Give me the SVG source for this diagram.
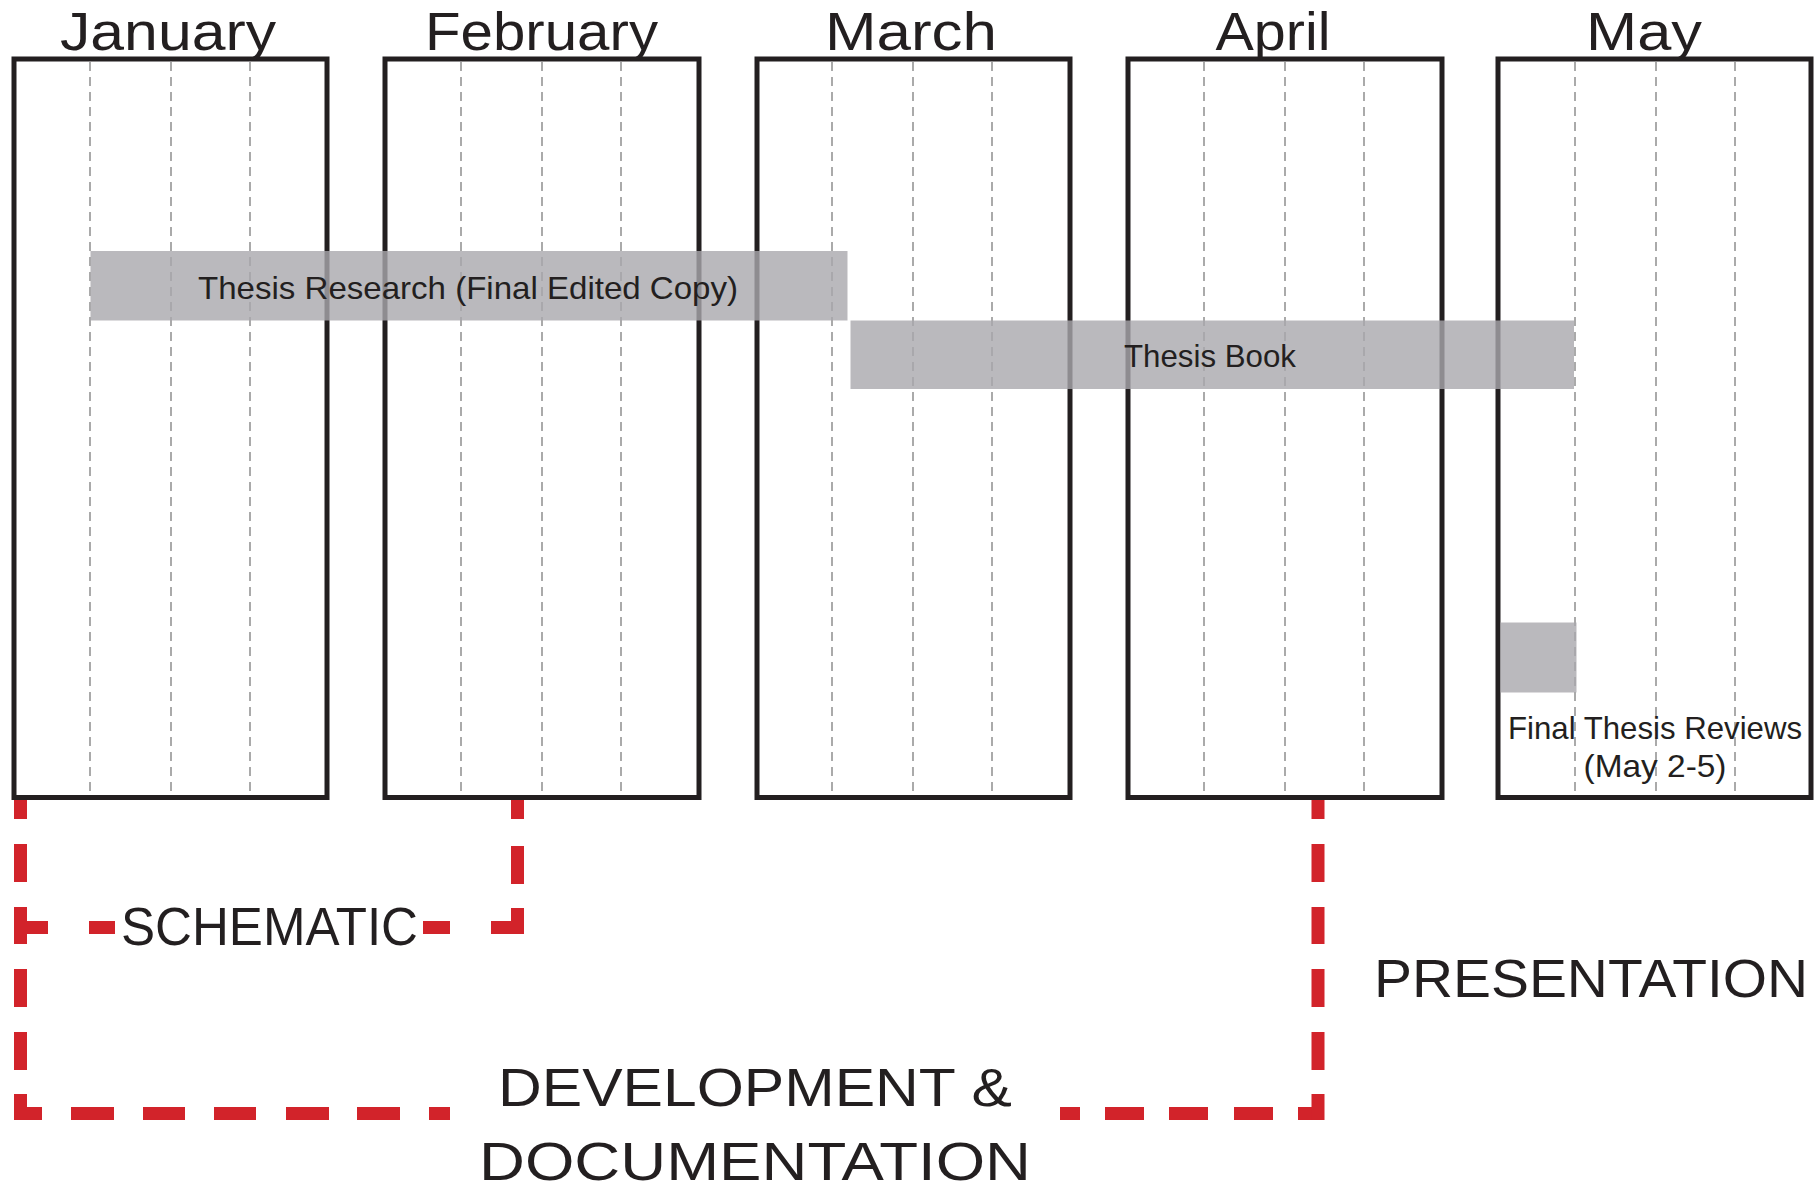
<svg xmlns="http://www.w3.org/2000/svg" width="1817" height="1185" viewBox="0 0 1817 1185">
  <style>
    .box { fill: none; stroke: #231f20; stroke-width: 5; }
    .wk { stroke: #aaaaaa; stroke-width: 2; stroke-dasharray: 9 6; fill: none; }
    .bar { fill: #a9a8ac; fill-opacity: 0.8; }
    .t { font-family: "Liberation Sans", Arial, sans-serif; fill: #231f20; }
    .month { font-size: 53px; text-anchor: middle; }
    .task { font-size: 32px; text-anchor: middle; }
    .phase { font-size: 54px; text-anchor: middle; }
    .red { fill: none; stroke: #d2232a; stroke-width: 13; stroke-linecap: butt; }
  </style>
  <rect width="1817" height="1185" fill="#ffffff"/>

  <g id="month-january">
    <rect class="box" x="14" y="59" width="313" height="738.5"/>
    <path class="wk" d="M90,62 V795 M171,62 V795 M250,62 V795"/>
    <text class="t month" x="168" y="50" textLength="216" lengthAdjust="spacingAndGlyphs">January</text>
  </g>
  <g id="month-february">
    <rect class="box" x="385" y="59" width="314" height="738.5"/>
    <path class="wk" d="M461,62 V795 M542,62 V795 M621,62 V795"/>
    <text class="t month" x="541.5" y="50" textLength="233" lengthAdjust="spacingAndGlyphs">February</text>
  </g>
  <g id="month-march">
    <rect class="box" x="757" y="59" width="313" height="738.5"/>
    <path class="wk" d="M832,62 V795 M913,62 V795 M992,62 V795"/>
    <text class="t month" x="911" y="50" textLength="172" lengthAdjust="spacingAndGlyphs">March</text>
  </g>
  <g id="month-april">
    <rect class="box" x="1128" y="59" width="314" height="738.5"/>
    <path class="wk" d="M1204,62 V795 M1285,62 V795 M1364,62 V795"/>
    <text class="t month" x="1273" y="50" textLength="115" lengthAdjust="spacingAndGlyphs">April</text>
  </g>
  <g id="month-may">
    <rect class="box" x="1498" y="59" width="313" height="738.5"/>
    <path class="wk" d="M1575,62 V795 M1656,62 V795 M1735,62 V795"/>
    <text class="t month" x="1644" y="50" textLength="116" lengthAdjust="spacingAndGlyphs">May</text>
  </g>

  <g id="task-thesis-research">
    <rect class="bar" x="90.5" y="251" width="757" height="69.5"/>
    <text class="t task" x="468" y="298.5" textLength="540" lengthAdjust="spacingAndGlyphs">Thesis Research (Final Edited Copy)</text>
  </g>
  <g id="task-thesis-book">
    <rect class="bar" x="850.5" y="320.5" width="723.5" height="68.5"/>
    <text class="t task" x="1210" y="367" textLength="172" lengthAdjust="spacingAndGlyphs">Thesis Book</text>
  </g>
  <g id="task-final-reviews">
    <rect class="bar" x="1500.5" y="622.5" width="76" height="70"/>
    <text class="t task" x="1655" y="739" font-size="31" textLength="294" lengthAdjust="spacingAndGlyphs">Final Thesis Reviews</text>
    <text class="t task" x="1655" y="777" font-size="31" textLength="143" lengthAdjust="spacingAndGlyphs">(May 2-5)</text>
  </g>

  <g id="connectors">
    <path class="red" d="M20.5,800 V819 M20.5,844 V882 M20.5,907 V944 M20.5,969 V1007 M20.5,1032 V1070 M20.5,1094 V1120"/>
    <path class="red" d="M14,927.5 H48 M89,927.5 H115 M423,927.5 H450 M491,927.5 H524"/>
    <path class="red" d="M517.5,800 V819 M517.5,846 V884 M517.5,908 V934"/>
    <path class="red" d="M14,1113.5 H42 M71,1113.5 H114 M143,1113.5 H185 M214,1113.5 H256 M286,1113.5 H329 M357,1113.5 H400 M429,1113.5 H450 M1060,1113.5 H1080 M1105,1113.5 H1144 M1169,1113.5 H1208 M1234,1113.5 H1273 M1298,1113.5 H1324"/>
    <path class="red" d="M1318,800 V819 M1318,844 V882 M1318,907 V944 M1318,969 V1007 M1318,1032 V1070 M1318,1094 V1120"/>
  </g>

  <g id="phase-schematic">
    <text class="t phase" x="269.5" y="945" textLength="297" lengthAdjust="spacingAndGlyphs">SCHEMATIC</text>
  </g>
  <g id="phase-development">
    <text class="t phase" x="755" y="1106" font-size="64" textLength="514" lengthAdjust="spacingAndGlyphs">DEVELOPMENT &amp;</text>
    <text class="t phase" x="755" y="1180" font-size="62" textLength="552" lengthAdjust="spacingAndGlyphs">DOCUMENTATION</text>
  </g>
  <g id="phase-presentation">
    <text class="t phase" x="1591" y="997" font-size="67" textLength="434" lengthAdjust="spacingAndGlyphs">PRESENTATION</text>
  </g>
</svg>
